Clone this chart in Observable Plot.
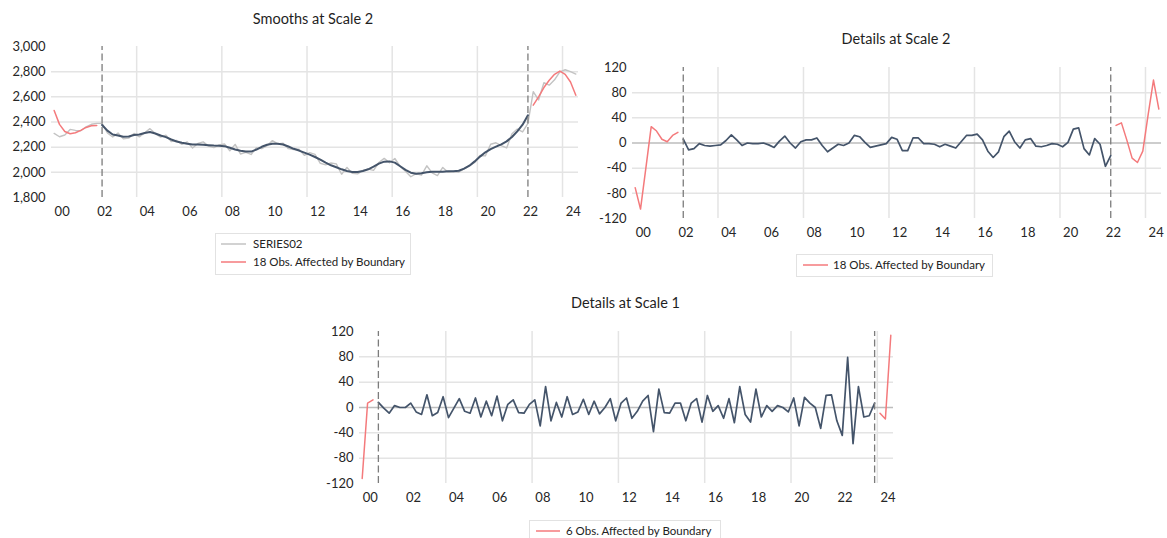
<!DOCTYPE html>
<html>
<head>
<meta charset="utf-8">
<script src="https://cdn.jsdelivr.net/npm/d3@7"></script>
<script src="https://cdn.jsdelivr.net/npm/@observablehq/plot@0.6"></script>
<style>
  body { margin: 0; background: #fff; font-family: Lato, "Open Sans", sans-serif; }
  #wrap { position: relative; width: 1167px; height: 538px; overflow: hidden; background: #fff; }
  .panel { position: absolute; z-index: 1; }
  .title { position: absolute; font-size: 14.5px; color: #1f1f1f; transform: translate(-50%, -50%); white-space: nowrap; z-index: 2; }
  .legend { position: absolute; border: 1px solid #e2e2e2; background: #fff; box-sizing: border-box; z-index: 3; }
  .lrow { position: absolute; font-size: 11.5px; color: #222; white-space: nowrap; line-height: 14px; z-index: 4; }
  .sw { position: absolute; z-index: 5; overflow: visible; }
</style>
</head>
<body>
<div id="wrap"></div>
<script>
// ---------- data (quarterly, 2000Q1 .. 2024Q3) ----------
const startYear = 2000;
const nObs = 99;
const xTickLabels = ["00","02","04","06","08","10","12","14","16","18","20","22","24"];
const xGridYears = [2004, 2008, 2012, 2016, 2020, 2024];

const series02 = [
  2309,2283,2297,2341,2333,2330,2362,2382,2389,2389,
  2313,2281,2312,2266,2272,2309,2282,2315,2347,2308,
  2280,2295,2245,2254,2222,2242,2193,2229,2242,2208,
  2196,2218,2225,2171,2222,2146,2159,2142,2196,2188,
  2212,2252,2226,2232,2188,2182,2184,2135,2157,2143,
  2072,2059,2074,2067,1985,2039,1993,1988,2016,2026,
  2016,2078,2111,2076,2110,2047,2009,1965,1989,1978,
  2052,1996,1974,2039,2000,2006,2001,2028,2052,2078,
  2134,2131,2223,2235,2213,2194,2307,2344,2321,2389,
  2641,2575,2712,2693,2735,2799,2815,2800,2781
];
const smooth2 = [
  2492,2381,2325,2307,2315,2333,2357,2370,2372,2376,
  2331,2301,2293,2283,2285,2296,2301,2312,2320,2309,
  2293,2280,2261,2245,2235,2227,2221,2221,2219,2216,
  2213,2211,2208,2195,2181,2171,2165,2165,2181,2203,
  2219,2227,2227,2221,2205,2187,2173,2157,2141,2122,
  2101,2077,2056,2040,2024,2011,2003,2003,2011,2024,
  2045,2069,2085,2087,2077,2048,2019,1997,1989,1992,
  2000,2005,2005,2005,2008,2008,2013,2029,2053,2087,
  2125,2159,2185,2204,2222,2246,2281,2326,2379,2453,
  2534,2600,2674,2732,2779,2805,2779,2718,2613
];
const detail2 = [
  -71,-105,-40,26,19,6,2,12,17,6,
  -11,-9,-1,-4,-5,-4,-3,4,13,5,
  -4,0,-1,-1,0,-3,-7,3,11,0,
  -8,2,5,5,8,-4,-14,-8,-2,-4,
  0,12,10,1,-7,-5,-3,-1,9,6,
  -12,-12,8,8,-1,-1,-2,-6,-2,-5,
  -8,2,12,12,14,5,-13,-23,-14,10,
  19,2,-8,5,7,-5,-6,-4,-1,-2,
  -6,1,22,24,-9,-19,7,-2,-37,-20,
  28,32,5,-24,-31,-13,45,100,54
];
const detail1 = [
  -112,7,12,8,-1,-9,3,0,0,7,
  -7,-11,20,-13,-8,17,-16,-1,14,-6,
  -9,15,-15,10,-13,18,-21,5,12,-8,
  -9,5,12,-29,33,-21,8,-15,17,-11,
  -7,13,-11,10,-10,0,14,-21,7,15,
  -17,-6,10,19,-38,29,-8,-9,7,7,
  -21,7,14,-23,19,-6,3,-17,14,-24,
  33,-11,-23,29,-15,3,-6,3,0,-7,
  15,-29,16,7,0,-33,19,20,-21,-44,
  79,-57,33,-15,-13,7,-9,-18,114
];
const boundaryScale2 = 9;   // obs affected at each end (18 total)
const boundaryScale1 = 3;   // obs affected at each end (6 total)

// ---------- styles ----------
const BLUE = "#44546a";
const RED = "#f47a7c";
const GRAY = "#c3c3c3";
const GRID = "#e4e4e4";
const ZERO = "#bdbdbd";
const DASH = "#7c7c7c";
const FONT = "Lato, 'Open Sans', sans-serif";

const quarters = d3.range(nObs).map(i => startYear + 0.125 + i / 4);
const xTickPos = xTickLabels.map((_, k) => startYear + 0.5 + 2 * k);
const labelAt = d => xTickLabels[Math.round((d - startYear - 0.5) / 2)];

function split(values, b) {
  const inner = values.map((v, i) => ({x: quarters[i], y: (i < b || i >= nObs - b) ? null : v}));
  const outer = values.map((v, i) => ({x: quarters[i], y: (i < b || i >= nObs - b) ? v : null}));
  return {inner, outer};
}

function panel(cfg) {
  const {values, b, yDomain, yTicks, yGrid, zero, yFormat, raw, blueWidth,
         left, top, width, height, ml, mr, mt, mb} = cfg;
  const {inner, outer} = split(values, b);
  const marks = [
    Plot.ruleY(yGrid, {stroke: GRID, strokeWidth: 1.5}),
    Plot.ruleX(xGridYears, {stroke: GRID, strokeWidth: 1.5}),
    zero ? Plot.ruleY([0], {stroke: ZERO, strokeWidth: 1.5}) : null,
    Plot.axisX({ticks: xTickPos, tickFormat: labelAt, tickSize: 0, tickPadding: 9, label: null}),
    Plot.axisY({ticks: yTicks, tickFormat: yFormat, tickSize: 0, tickPadding: 6, label: null}),
    raw ? Plot.line(raw.map((v, i) => ({x: quarters[i], y: v})), {x: "x", y: "y", stroke: GRAY, strokeWidth: 1.4}) : null,
    Plot.line(inner, {x: "x", y: "y", stroke: BLUE, strokeWidth: blueWidth}),
    Plot.line(outer, {x: "x", y: "y", stroke: RED, strokeWidth: 1.5}),
    Plot.ruleX([quarters[b], quarters[nObs - 1 - b]], {stroke: DASH, strokeWidth: 1.3, strokeDasharray: "7,3.5", y1: yDomain[0], y2: yDomain[1]})
  ].filter(Boolean);
  const svg = Plot.plot({
    width, height, marginLeft: ml, marginRight: mr, marginTop: mt, marginBottom: mb,
    style: {fontFamily: FONT, fontSize: "13px", color: "#262626", background: "transparent", overflow: "visible"},
    x: {domain: [startYear, startYear + nObs / 4]},
    y: {domain: yDomain},
    marks
  });
  const div = document.createElement("div");
  div.className = "panel";
  div.style.left = left + "px";
  div.style.top = top + "px";
  div.style.width = width + "px";
  div.style.height = height + "px";
  div.appendChild(svg);
  document.getElementById("wrap").appendChild(div);
}

function title(text, cx, cy) {
  const d = document.createElement("div");
  d.className = "title";
  d.textContent = text;
  d.style.left = cx + "px";
  d.style.top = cy + "px";
  document.getElementById("wrap").appendChild(d);
}

const SVGNS = "http://www.w3.org/2000/svg";
function legend(box, rows) {
  const wrap = document.getElementById("wrap");
  const b = document.createElement("div");
  b.className = "legend";
  Object.assign(b.style, {left: box.x + "px", top: box.y + "px", width: box.w + "px", height: box.h + "px"});
  wrap.appendChild(b);
  rows.forEach(r => {
    const s = document.createElementNS(SVGNS, "svg");
    s.setAttribute("class", "sw");
    s.setAttribute("width", r.sw);
    s.setAttribute("height", 4);
    s.style.left = r.sx + "px";
    s.style.top = (r.cy - 2) + "px";
    const ln = document.createElementNS(SVGNS, "line");
    ln.setAttribute("x1", 0); ln.setAttribute("x2", r.sw);
    ln.setAttribute("y1", 2); ln.setAttribute("y2", 2);
    ln.setAttribute("stroke", r.color);
    ln.setAttribute("stroke-width", 1.5);
    s.appendChild(ln);
    wrap.appendChild(s);
    const t = document.createElement("div");
    t.className = "lrow";
    t.textContent = r.text;
    Object.assign(t.style, {left: r.tx + "px", top: (r.cy - 7) + "px"});
    wrap.appendChild(t);
  });
}

const fmtComma = d3.format(",");
const fmtPlain = d => String(d);

// Smooths at Scale 2
panel({
  values: smooth2, b: boundaryScale2, raw: series02, blueWidth: 2,
  yDomain: [1800, 3000], yTicks: d3.range(1800, 3001, 200), yGrid: d3.range(2000, 2801, 200),
  zero: false, yFormat: fmtComma,
  left: 0, top: 36, width: 590, height: 185, ml: 51, mr: 12, mt: 10, mb: 24
});
title("Smooths at Scale 2", 313, 17.5);
legend({x: 215, y: 233, w: 196, h: 42}, [
  {sx: 221, sw: 25, cy: 244, tx: 253, text: "SERIES02", color: GRAY},
  {sx: 221, sw: 25, cy: 262, tx: 253, text: "18 Obs. Affected by Boundary", color: RED}
]);

// Details at Scale 2
panel({
  values: detail2, b: boundaryScale2, blueWidth: 1.7,
  yDomain: [-120, 120], yTicks: d3.range(-120, 121, 40), yGrid: [-80, -40, 40, 80],
  zero: true, yFormat: fmtPlain,
  left: 585, top: 56, width: 582, height: 186, ml: 47, mr: 6, mt: 11, mb: 24
});
title("Details at Scale 2", 896, 38);
legend({x: 796, y: 254, w: 197, h: 23}, [
  {sx: 803, sw: 25, cy: 265, tx: 833, text: "18 Obs. Affected by Boundary", color: RED}
]);

// Details at Scale 1
panel({
  values: detail1, b: boundaryScale1, blueWidth: 1.7,
  yDomain: [-120, 120], yTicks: d3.range(-120, 121, 40), yGrid: [-80, -40, 40, 80],
  zero: true, yFormat: fmtPlain,
  left: 310, top: 320, width: 600, height: 187, ml: 49, mr: 17, mt: 11, mb: 24
});
title("Details at Scale 1", 625.5, 302);
legend({x: 529, y: 520, w: 192, h: 23}, [
  {sx: 536, sw: 24, cy: 531, tx: 566, text: "6 Obs. Affected by Boundary", color: RED}
]);
</script>
</body>
</html>
